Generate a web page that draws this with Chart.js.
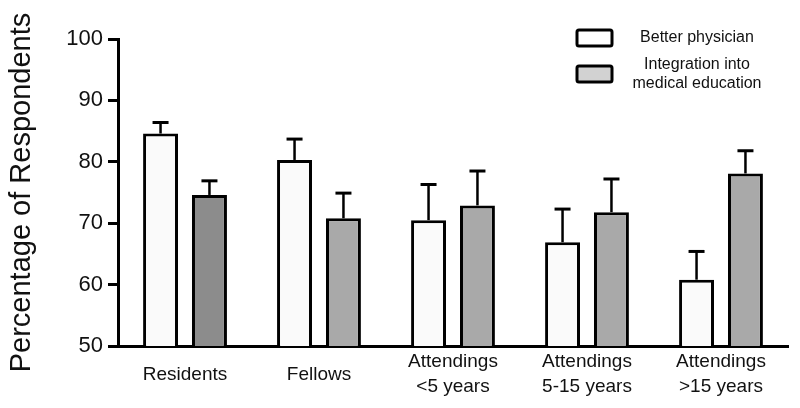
<!DOCTYPE html>
<html>
<head>
<meta charset="utf-8">
<script src="https://cdn.jsdelivr.net/npm/chart.js@4/dist/chart.umd.min.js"></script>
<style>
  html, body { margin: 0; padding: 0; background: #fff; }
  #wrap { width: 800px; height: 408px; }
</style>
</head>
<body>
<div id="wrap"><canvas id="c" width="800" height="408"></canvas></div>
<script>
const categories = [["Residents"], ["Fellows"], ["Attendings", "<5 years"], ["Attendings", "5-15 years"], ["Attendings", ">15 years"]];
const seriesNames = ["Better physician", ["Integration into", "medical education"]];
const betterPhysician = [84.6, 80.3, 70.5, 66.9, 60.8];
const betterPhysicianErr = [1.8, 3.4, 5.8, 5.4, 4.6];
const integration = [74.6, 70.8, 72.9, 71.8, 78.1];
const integrationErr = [2.3, 4.1, 5.6, 5.4, 3.7];
const yTicks = [50, 60, 70, 80, 90, 100];

const FONT = "'Liberation Sans', Arial, Helvetica, sans-serif";

const errorBarPlugin = {
  id: 'errorBars',
  afterDatasetsDraw(chart) {
    const ctx = chart.ctx;
    const y = chart.scales.y;
    chart.data.datasets.forEach((ds, di) => {
      const meta = chart.getDatasetMeta(di);
      meta.data.forEach((bar, i) => {
        const v = ds.data[i];
        const e = ds.errors[i];
        const yTop = y.getPixelForValue(v + e);
        const yBase = y.getPixelForValue(v);
        ctx.save();
        ctx.strokeStyle = '#000';
        ctx.lineWidth = 2.5;
        ctx.beginPath();
        ctx.moveTo(bar.x, yBase);
        ctx.lineTo(bar.x, yTop);
        ctx.stroke();
        ctx.lineWidth = 3;
        ctx.beginPath();
        ctx.moveTo(bar.x - 8, yTop);
        ctx.lineTo(bar.x + 8, yTop);
        ctx.stroke();
        ctx.restore();
      });
    });
  }
};

const legendPlugin = {
  id: 'customLegend',
  afterDraw(chart) {
    const ctx = chart.ctx;
    const items = [
      { name: chart.data.datasets[0].label, fill: '#ffffff', boxY: 30, textY: [38] },
      { name: chart.data.datasets[1].label, fill: '#d2d2d2', boxY: 66, textY: [65, 84] }
    ];
    ctx.save();
    items.forEach(it => {
      ctx.lineWidth = 3;
      ctx.strokeStyle = '#000';
      ctx.fillStyle = it.fill;
      const bx = 577, bw = 35, bh = 16;
      ctx.beginPath();
      if (ctx.roundRect) ctx.roundRect(bx, it.boxY, bw, bh, 2); else ctx.rect(bx, it.boxY, bw, bh);
      ctx.fill();
      ctx.stroke();
      ctx.fillStyle = '#111';
      ctx.font = '16px ' + FONT;
      ctx.textAlign = 'center';
      ctx.textBaseline = 'middle';
      const lines = Array.isArray(it.name) ? it.name : [it.name];
      lines.forEach((ln, k) => ctx.fillText(ln, 697, it.textY[k]));
    });
    ctx.restore();
  }
};

new Chart(document.getElementById('c'), {
  type: 'bar',
  data: {
    labels: categories,
    datasets: [
      {
        label: seriesNames[0],
        data: betterPhysician,
        errors: betterPhysicianErr,
        backgroundColor: '#fafafa',
        borderColor: '#000',
        borderWidth: 3,
        borderSkipped: false,
        categoryPercentage: 0.73,
        barPercentage: 0.714
      },
      {
        label: seriesNames[1],
        data: integration,
        errors: integrationErr,
        backgroundColor: ['#8c8c8c', '#a9a9a9', '#a9a9a9', '#a9a9a9', '#a9a9a9'],
        borderColor: '#000',
        borderWidth: 3,
        borderSkipped: false,
        categoryPercentage: 0.73,
        barPercentage: 0.714
      }
    ]
  },
  options: {
    responsive: false,
    animation: false,
    layout: { padding: { left: 0, right: 12, top: 39, bottom: 0 } },
    plugins: {
      legend: { display: false },
      tooltip: { enabled: false }
    },
    scales: {
      x: {
        grid: { display: false, drawTicks: false },
        border: { display: true, color: '#000', width: 3 },
        ticks: {
          color: '#111',
          font: { family: FONT, size: 19, lineHeight: 1.32 },
          padding: 16,
          crossAlign: 'center',
          maxRotation: 0,
          autoSkip: false
        },
        afterFit(s) { s.height = 62; }
      },
      y: {
        min: 50,
        max: 100,
        afterBuildTicks(s) { s.ticks = yTicks.map(v => ({ value: v })); },
        grid: { display: true, drawOnChartArea: false, drawTicks: true, tickLength: 10, tickWidth: 3, tickColor: '#000' },
        border: { display: true, color: '#000', width: 3 },
        ticks: {
          color: '#111',
          font: { family: FONT, size: 22 },
          padding: 5
        },
        title: {
          display: true,
          text: 'Percentage of Respondents',
          color: '#111',
          font: { family: FONT, size: 29, lineHeight: 1.2 },
          padding: { top: 5, bottom: 0 }
        },
        afterFit(s) { s.width = 118; }
      }
    }
  },
  plugins: [errorBarPlugin, legendPlugin]
});
</script>
</body>
</html>
